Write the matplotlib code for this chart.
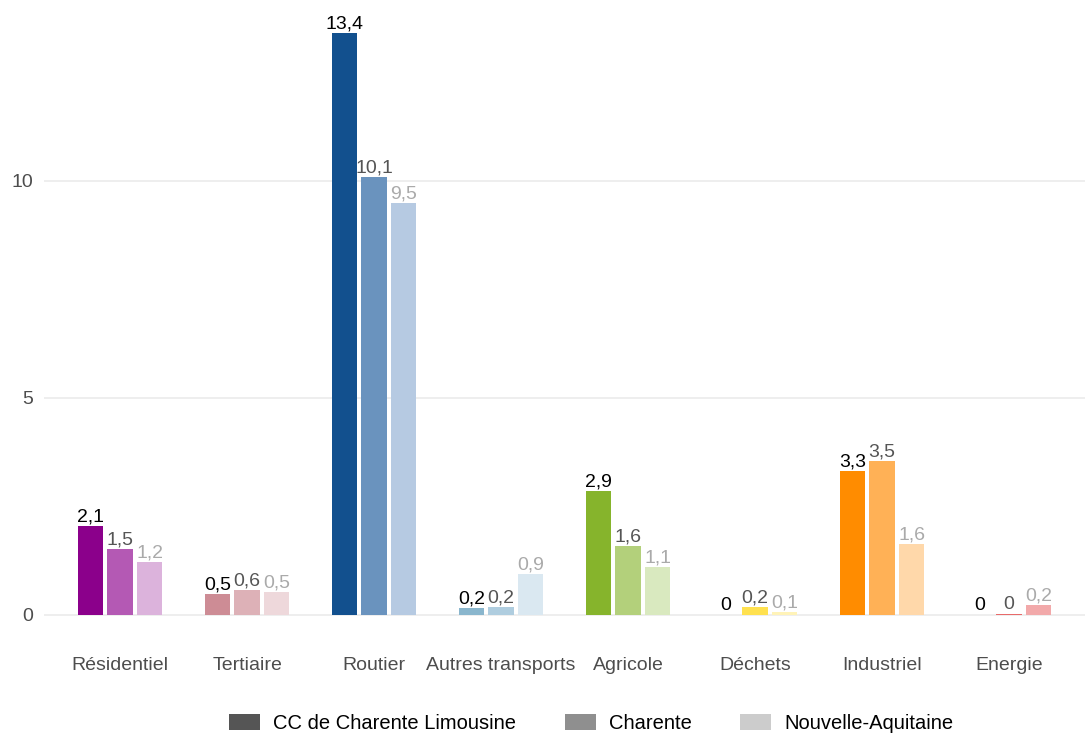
import numpy as np
import matplotlib
matplotlib.use("Agg")
from matplotlib import pyplot as plt
from matplotlib.patches import Patch

plt.rcParams['font.family'] = ['Liberation Sans', 'DejaVu Sans']

# data
categories = ['Résidentiel', 'Tertiaire', 'Routier', 'Autres transports',
              'Agricole', 'Déchets', 'Industriel', 'Energie']
series = ['CC de Charente Limousine', 'Charente', 'Nouvelle-Aquitaine']
cc_vals = [2.05, 0.48, 13.41, 0.16, 2.86, 0.0, 3.32, 0.0]
charente_vals = [1.52, 0.58, 10.09, 0.18, 1.59, 0.18, 3.55, 0.03]
na_vals = [1.22, 0.53, 9.49, 0.94, 1.10, 0.07, 1.64, 0.23]
cc_labels = ['2,1', '0,5', '13,4', '0,2', '2,9', '0', '3,3', '0']
charente_labels = ['1,5', '0,6', '10,1', '0,2', '1,6', '0,2', '3,5', '0']
na_labels = ['1,2', '0,5', '9,5', '0,9', '1,1', '0,1', '1,6', '0,2']

# colours per category: dark, medium, light
colors = [
    ['#8B008B', '#B459B4', '#DCB3DC'],
    ['#CD8C95', '#DDB1B7', '#EED8DB'],
    ['#12508E', '#6A93BE', '#B6CAE2'],
    ['#8AB6CD', '#AFCDDF', '#DAE8F1'],
    ['#86B42C', '#B3D07B', '#D9E9BF'],
    ['#FFDD33', '#FFE14F', '#FFF3B8'],
    ['#FF8C00', '#FFB156', '#FFD8AA'],
    ['#E03A3A', '#E86A6A', '#F2A9AA'],
]
label_colors = ['#000000', '#555555', '#AAAAAA']
legend_colors = ['#555555', '#8f8f8f', '#cccccc']

fig = plt.figure(figsize=(10.85, 7.33), dpi=100)
ax = fig.add_axes([44 / 1085, 1 - 644 / 733, 1041 / 1085, 640 / 733])

x = np.arange(len(categories))
slot = 0.7 / 3
width = 0.6 / 3
all_vals = [cc_vals, charente_vals, na_vals]
all_labels = [cc_labels, charente_labels, na_labels]

for s in range(3):
    pos = x + (s - 1) * slot
    cols = [colors[i][s] for i in range(len(categories))]
    ax.bar(pos, all_vals[s], width=width, color=cols, linewidth=0, zorder=3)
    for i in range(len(categories)):
        ax.annotate(all_labels[s][i], (pos[i], all_vals[s][i]),
                    xytext=(0, 0.3), textcoords='offset points',
                    ha='center', va='bottom', fontsize=14,
                    color=label_colors[s], zorder=4)

ax.set_xlim(-0.6, len(categories) - 0.4)
ax.set_ylim(-13.4 * 0.05, 13.4 * 1.05)
ax.set_yticks([0, 5, 10])
ax.set_yticklabels(['0', '5', '10'])
ax.set_xticks(x)
ax.set_xticklabels(categories)
ax.tick_params(axis='both', length=0, labelsize=14, labelcolor='#4d4d4d')
ax.tick_params(axis='x', pad=9)
ax.tick_params(axis='y', pad=8)
ax.grid(axis='y', color='#EBEBEB', linewidth=1.2, zorder=0)
for sp in ax.spines.values():
    sp.set_visible(False)

handles = [Patch(facecolor=legend_colors[i], label=series[i]) for i in range(3)]
fig.legend(handles=handles, loc='lower center', ncol=3, frameon=False,
           fontsize=14.5, handlelength=1.55, handleheight=0.8,
           handletextpad=0.65, columnspacing=2.4,
           bbox_to_anchor=(0.545, -0.025))

fig.savefig('out.png', dpi=100)
